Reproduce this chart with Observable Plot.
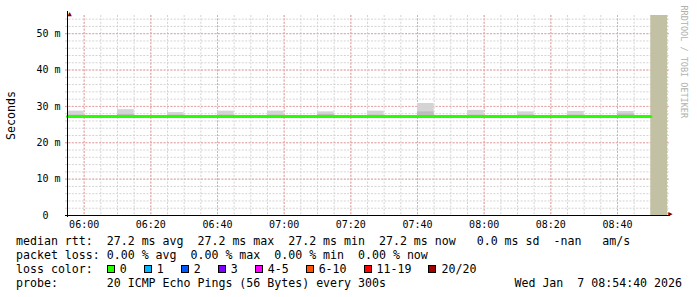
<!DOCTYPE html>
<html>
<head>
<meta charset="utf-8">
<script src="https://cdn.jsdelivr.net/npm/d3@7"></script>
<script src="https://cdn.jsdelivr.net/npm/@observablehq/plot@0.6"></script>
<style>
  html, body { margin: 0; padding: 0; background: #fff; }
  #wrap { position: relative; width: 697px; height: 297px; overflow: hidden; }
  svg text { white-space: pre; }
  #legend { position: absolute; left: 16px; top: 234px; width: 666px;
    font-family: "DejaVu Sans Mono", monospace; font-size: 11.6px; line-height: 14px; color: #000; white-space: pre; }
  .row { height: 14px; position: relative; }
  .box { display: inline-block; width: 6px; height: 6px; border: 1px solid #000; vertical-align: 0px; margin-right: 5px; }
  .item { margin-right: 17px; }
  .date { position: absolute; right: 0; top: 0; }
</style>
</head>
<body>
<div id="wrap"><div id="chart"></div><div id="legend"></div></div>
<script>
// ---- data ----
const startTime = "05:55";
const endTime = "08:55";
const smokeStart = ["05:55","06:10","06:25","06:40","06:55","07:10","07:25","07:40","07:55","08:10","08:25","08:40"];
const smokeMin   = [27.0, 27.0, 27.0, 27.0, 27.0, 27.0, 27.0, 27.0, 27.0, 27.0, 27.0, 27.0];
const smokeMid   = [27.6, 27.8, 27.6, 27.6, 27.6, 27.8, 27.6, 28.5, 27.6, 27.6, 27.6, 27.9];
const smokeMax   = [28.7, 29.1, 28.3, 28.7, 28.7, 28.5, 28.7, 30.8, 28.9, 28.5, 28.6, 28.6];
const medianTimes  = ["05:55","06:10","06:25","06:40","06:55","07:10","07:25","07:40","07:55","08:10","08:25","08:40","08:50"];
const medianValues = [27.2, 27.2, 27.2, 27.2, 27.2, 27.2, 27.2, 27.2, 27.2, 27.2, 27.2, 27.2, 27.2];
const unknownStart = "08:50", unknownEnd = "08:55", unknownTop = 55;
const xTicks = ["06:00","06:20","06:40","07:00","07:20","07:40","08:00","08:20","08:40"];
const yTicks = [0, 10, 20, 30, 40, 50];
const yMax = 55;
const lossLabels = ["0","1","2","3","4-5","6-10","11-19","20/20"];
const lossColors = ["#26ff00","#00b8ff","#0059ff","#7e00ff","#ff00ff","#ff5500","#ff0000","#a10000"];
const statsLine1 = "median rtt:  27.2 ms avg  27.2 ms max  27.2 ms min  27.2 ms now   0.0 ms sd  -nan   am/s";
const statsLine2 = "packet loss: 0.00 % avg  0.00 % max  0.00 % min  0.00 % now";
const probeLine = "probe:       20 ICMP Echo Pings (56 Bytes) every 300s";
const dateLine = "Wed Jan  7 08:54:40 2026";

// ---- build ----
const T = s => { const [h, m] = s.split(":").map(Number); return new Date(Date.UTC(2026, 0, 7, h, m)); };
const smoke = smokeStart.map((s, i) => ({x1: T(s), x2: d3.utcMinute.offset(T(s), 5), lo: smokeMin[i], mid: smokeMid[i], hi: smokeMax[i]}));
const median = medianTimes.map((s, i) => ({t: T(s), v: medianValues[i]}));
const unknown = [{x1: T(unknownStart), x2: T(unknownEnd), y1: 0, y2: unknownTop}];
const minorX = d3.utcMinute.every(5).range(T(startTime), d3.utcMinute.offset(T(endTime), 1));
const majorX = xTicks.map(T);
const minorY = d3.range(2, yMax, 2);
const majorY = yTicks.filter(d => d > 0);
const gridGray = "#d4d4d4", gridRed = "#eba3a3", dash = "2,1.4";

const chart = Plot.plot({
  width: 697, height: 232,
  marginLeft: 67, marginRight: 30, marginTop: 15, marginBottom: 17,
  x: {type: "utc", domain: [T(startTime), T(endTime)]},
  y: {domain: [0, yMax]},
  style: {fontFamily: "DejaVu Sans Mono", fontSize: "10px", color: "#000", background: "#fff", overflow: "visible"},
  marks: [
    Plot.ruleX(minorX, {stroke: gridGray, strokeDasharray: dash}),
    Plot.ruleY(minorY, {stroke: gridGray, strokeDasharray: dash, insetLeft: -2, insetRight: -2}),
    Plot.ruleX(majorX, {stroke: gridRed, strokeDasharray: dash}),
    Plot.ruleY(majorY, {stroke: gridRed, strokeDasharray: dash, insetLeft: -2, insetRight: -2}),
    Plot.rect(unknown, {x1: "x1", x2: "x2", y1: "y1", y2: "y2", fill: "#c3c1a3"}),
    Plot.rect(smoke, {x1: "x1", x2: "x2", y1: "lo", y2: "hi", fill: "#d4d4d4"}),
    Plot.rect(smoke, {x1: "x1", x2: "x2", y1: "lo", y2: "mid", fill: "#bdbdbd"}),
    Plot.line(median, {x: "t", y: "v", curve: "step-after", stroke: "#26ff00", strokeWidth: 3}),
    Plot.axisX({ticks: majorX, tickFormat: d3.utcFormat("%H:%M"), tickSize: 0, tickPadding: 5, fontSize: 10}),
    Plot.axisY({ticks: yTicks, tickFormat: d => d === 0 ? "0  " : `${d} m`, tickSize: 0, tickPadding: 7, fontSize: 10}),
    Plot.ruleY([0], {stroke: "#000", insetLeft: -2, insetRight: -3}),
    Plot.ruleX([T(startTime)], {stroke: "#000", insetTop: -4, insetBottom: -2}),
    Plot.text(["\u25B2"], {frameAnchor: "top-left", dy: -4, fontSize: 7, fill: "#7a0000"}),
    Plot.text(["\u25B6"], {frameAnchor: "bottom-right", dx: 5, fontSize: 7, fill: "#7a0000"}),
    Plot.text(["Seconds"], {frameAnchor: "left", dx: -56, rotate: -90, textAnchor: "middle", fontSize: 11.6}),
    Plot.text(["RRDTOOL / TOBI OETIKER"], {frameAnchor: "top-right", dx: 20, dy: -10, rotate: 90, textAnchor: "start", fontSize: 8.5, fill: "#b0b0b0"})
  ]
});
document.getElementById("chart").appendChild(chart);

const legend = document.getElementById("legend");
const r1 = document.createElement("div"); r1.className = "row"; r1.textContent = statsLine1; legend.appendChild(r1);
const r2 = document.createElement("div"); r2.className = "row"; r2.textContent = statsLine2; legend.appendChild(r2);
const r3 = document.createElement("div"); r3.className = "row";
r3.appendChild(document.createTextNode("loss color:  "));
lossLabels.forEach((l, i) => {
  const b = document.createElement("span"); b.className = "box"; b.style.background = lossColors[i]; r3.appendChild(b);
  const s = document.createElement("span"); s.className = "item"; s.textContent = l; r3.appendChild(s);
});
legend.appendChild(r3);
const r4 = document.createElement("div"); r4.className = "row"; r4.textContent = probeLine;
const dt = document.createElement("span"); dt.className = "date"; dt.textContent = dateLine; r4.appendChild(dt);
legend.appendChild(r4);
</script>
</body>
</html>
